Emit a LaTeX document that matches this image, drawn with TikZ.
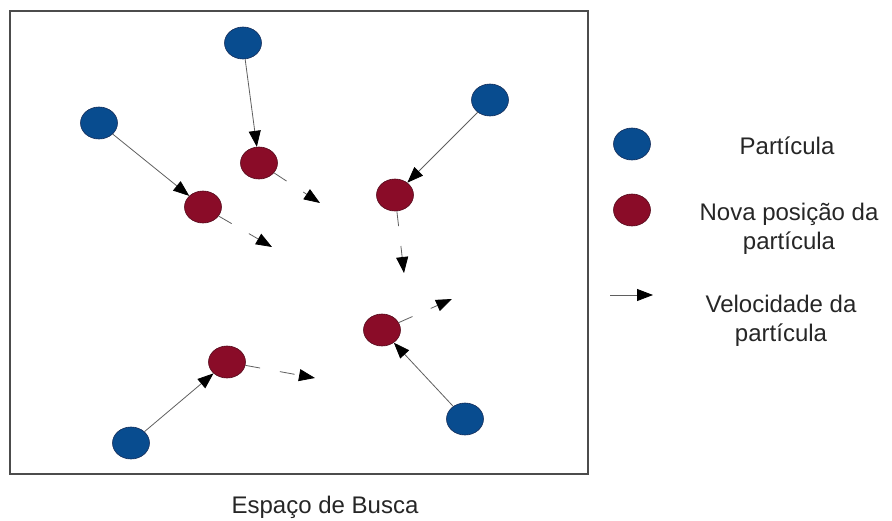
\documentclass[tikz,border=0pt]{standalone}
\usepackage{fontspec}
\setmainfont{Liberation Sans}
\usetikzlibrary{shapes.geometric,arrows.meta}

\definecolor{azul}{RGB}{8,76,143}
\definecolor{azulb}{RGB}{20,45,90}
\definecolor{vinho}{RGB}{138,12,40}
\definecolor{vinhob}{RGB}{85,10,28}
\definecolor{linha}{RGB}{95,95,95}

\tikzset{
  particula/.style={ellipse,minimum width=37pt,minimum height=32pt,inner sep=0pt,
    fill=azul,draw=azulb,line width=0.6pt},
  nova/.style={particula,fill=vinho,draw=vinhob},
  mov/.style={draw=linha,line width=0.8pt,-{Triangle[length=16pt,width=12pt,color=black]}},
  vel/.style={mov,dash pattern=on 15pt off 20pt},
  rotulo/.style={font=\fontsize{24}{29}\selectfont,text=black!85,align=center}
}

\begin{document}
\begin{tikzpicture}[x=1pt,y=-1pt]
  \useasboundingbox (0,0) rectangle (892,520);

  % espaço de busca
  \draw[linha!80!black,line width=1.2pt] (10,11) rectangle (588,474);
  \node[rotulo,anchor=base] (busca) at (325,513) {Espaço de Busca};

  % partículas
  \node[particula] (p1) at (243,43) {};
  \node[particula] (p2) at (99,123) {};
  \node[particula] (p3) at (490,100) {};
  \node[particula] (p4) at (131,443) {};
  \node[particula] (p5) at (465,419) {};

  % novas posições
  \node[nova] (n1) at (259,163) {};
  \node[nova] (n2) at (203,207) {};
  \node[nova] (n3) at (395,195) {};
  \node[nova] (n4) at (227,362) {};
  \node[nova] (n5) at (382,330) {};

  % velocidades
  \coordinate (v1) at (320,203);
  \coordinate (v2) at (272,247);
  \coordinate (v3) at (404,273);
  \coordinate (v4) at (315,378);
  \coordinate (v5) at (452,299);

  \foreach \i in {1,...,5} {
    \draw[mov] (p\i) -- (n\i);
    \draw[vel] (n\i) -- (v\i);
  }

  % legenda
  \node[particula] (lp) at (632,144) {};
  \node[nova] (ln) at (632,210) {};
  \coordinate (la1) at (610,295);
  \coordinate (la2) at (653,295);
  \draw[mov] (la1) -- (la2);
  \node[rotulo,anchor=base] (tp) at (787,154) {Partícula};
  \node[rotulo] (tn) at (789,229) {Nova posição da\\partícula};
  \node[rotulo] (ta) at (781,321) {Velocidade da\\partícula};
\end{tikzpicture}
\end{document}
